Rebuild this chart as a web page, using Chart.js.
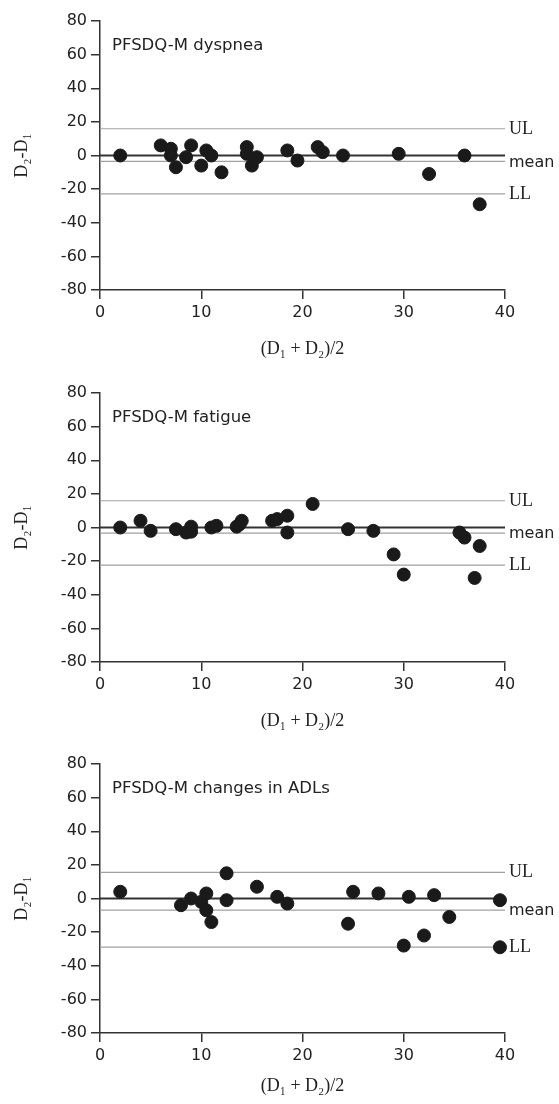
<!DOCTYPE html>
<html>
<head>
<meta charset="utf-8">
<script src="https://cdn.jsdelivr.net/npm/chart.js@4.4.1/dist/chart.umd.min.js"></script>
<style>
  html, body { margin: 0; padding: 0; background: #fff; }
  body { width: 559px; height: 1104px; position: relative; overflow: hidden; }
  .panel { position: absolute; left: 0; width: 559px; height: 360px; }
</style>
</head>
<body>
<div class="panel" style="top:0"><canvas id="dyspneaChart"></canvas></div>
<div class="panel" style="top:372px"><canvas id="fatigueChart"></canvas></div>
<div class="panel" style="top:743px"><canvas id="adlChart"></canvas></div>
<script>
// values
const xTicks = [0, 10, 20, 30, 40];
const yTicks = [-80, -60, -40, -20, 0, 20, 40, 60, 80];
const limitLabels = ["UL", "mean", "LL"];

const dyspneaX = [2, 6, 7, 7, 7.5, 8.5, 9, 10, 10.5, 11, 12, 14.5, 14.5, 15, 15.5, 18.5, 19.5, 21.5, 22, 24, 29.5, 32.5, 36, 37.5];
const dyspneaY = [0, 6, 4, 0, -7, -1, 6, -6, 3, 0, -10, 5, 1, -6, -1, 3, -3, 5, 2, 0, 1, -11, 0, -29];
const dyspneaLimits = [15.9, -3.5, -22.8];

const fatigueX = [2, 4, 5, 7.5, 8.5, 9, 9, 11, 11.5, 13.5, 13.8, 14, 17, 17.5, 18.5, 18.5, 21, 24.5, 27, 29, 30, 35.5, 36, 37, 37.5];
const fatigueY = [0, 4, -2, -1, -3, -2.5, 0.5, 0, 1, 0.5, 2, 4, 4, 5, 7, -3, 14, -1, -2, -16, -28, -3, -6, -30, -11];
const fatigueLimits = [15.9, -3.4, -22.4];

const adlX = [2, 8, 9, 10, 10.5, 10.5, 11, 12.5, 12.5, 15.5, 17.5, 18.5, 24.5, 25, 27.5, 30, 30.5, 32, 33, 34.5, 39.5, 39.5];
const adlY = [4, -4, 0, -2, 3, -7, -14, 15, -1, 7, 1, -3, -15, 4, 3, -28, 1, -22, 2, -11, -1, -29];
const adlLimits = [15.5, -6.9, -28.9];

const sansFont = '"DejaVu Sans", "Noto Sans", sans-serif';
const serifFont = '"Liberation Serif", "DejaVu Serif", serif';

const refLabels = {
    id: "refLabels",
    afterDatasetsDraw(chart, args, opts) {
        const { ctx, chartArea, scales } = chart;
        ctx.save();
        ctx.fillStyle = "#222";
        ctx.textBaseline = "middle";
        opts.limits.forEach((v, i) => {
            // "mean" is set in the sans face in the original, UL / LL in serif
            ctx.font = i === 1 ? "16px " + sansFont : "18px " + serifFont;
            ctx.fillText(limitLabels[i], chartArea.right + 4, scales.y.getPixelForValue(v) + (i === 1 ? 1 : 0));
        });
        ctx.font = "16.5px " + sansFont;
        ctx.fillText(opts.title, chartArea.left + 12, chartArea.top + 25);
        ctx.restore();
    },
};

function hLine(v) {
    return [{ x: xTicks[0], y: v }, { x: xTicks[xTicks.length - 1], y: v }];
}

function renderPanel(id, title, xs, ys, limits, xTitlePad) {
    const ctx = document.getElementById(id).getContext("2d");
    const points = xs.map((x, i) => ({ x: x, y: ys[i] }));

    const lineSets = limits.map((v) => ({
        type: "line",
        data: hLine(v),
        borderColor: "#a0a0a0",
        borderWidth: 1.2,
        pointRadius: 0,
        order: 2,
    }));

    new Chart(ctx, {
        type: "scatter",
        data: {
            datasets: [
                {
                    data: points,
                    backgroundColor: "#1a1a1a",
                    borderColor: "#1a1a1a",
                    pointRadius: 6.5,
                    pointHoverRadius: 6.5,
                    order: 0,
                },
                {
                    type: "line",
                    data: hLine(0),
                    borderColor: "#333",
                    borderWidth: 2,
                    pointRadius: 0,
                    order: 1,
                },
                ...lineSets,
            ],
        },
        options: {
            responsive: true,
            maintainAspectRatio: false,
            animation: false,
            clip: false,
            layout: { padding: { top: 21, right: 54, left: 0, bottom: 0 } },
            plugins: {
                legend: { display: false },
                tooltip: { enabled: false },
                refLabels: { limits: limits, title: title },
            },
            scales: {
                x: {
                    type: "linear",
                    min: 0,
                    max: 40,
                    afterBuildTicks: (s) => { s.ticks = xTicks.map((v) => ({ value: v })); },
                    afterFit: (s) => { s.height = 70; },
                    grid: { drawOnChartArea: false, drawTicks: true, tickLength: 9, color: "#333", lineWidth: 1.5 },
                    border: { color: "#333", width: 1.5 },
                    ticks: { color: "#222", font: { family: sansFont, size: 16 }, padding: 4 },
                    title: {
                        display: true,
                        text: "(D\u2081 + D\u2082)/2",
                        color: "#222",
                        font: { family: serifFont, size: 18 },
                        padding: { top: 0, bottom: xTitlePad },
                    },
                },
                y: {
                    type: "linear",
                    min: -80,
                    max: 80,
                    afterBuildTicks: (s) => { s.ticks = yTicks.map((v) => ({ value: v })); },
                    afterFit: (s) => { s.width = 100; },
                    grid: { drawOnChartArea: false, drawTicks: true, tickLength: 9, color: "#333", lineWidth: 1.5 },
                    border: { color: "#333", width: 1.5 },
                    ticks: { color: "#222", font: { family: sansFont, size: 16 }, padding: 4 },
                    title: {
                        display: true,
                        text: "D\u2082-D\u2081",
                        color: "#222",
                        font: { family: serifFont, size: 18 },
                        padding: { top: 11, bottom: 0 },
                    },
                },
            },
        },
        plugins: [refLabels],
    });
}

document.addEventListener("DOMContentLoaded", () => {
    renderPanel("dyspneaChart", "PFSDQ-M dyspnea", dyspneaX, dyspneaY, dyspneaLimits, 0);
    renderPanel("fatigueChart", "PFSDQ-M fatigue", fatigueX, fatigueY, fatigueLimits, 0);
    renderPanel("adlChart", "PFSDQ-M changes in ADLs", adlX, adlY, adlLimits, 6);
});
</script>
</body>
</html>
